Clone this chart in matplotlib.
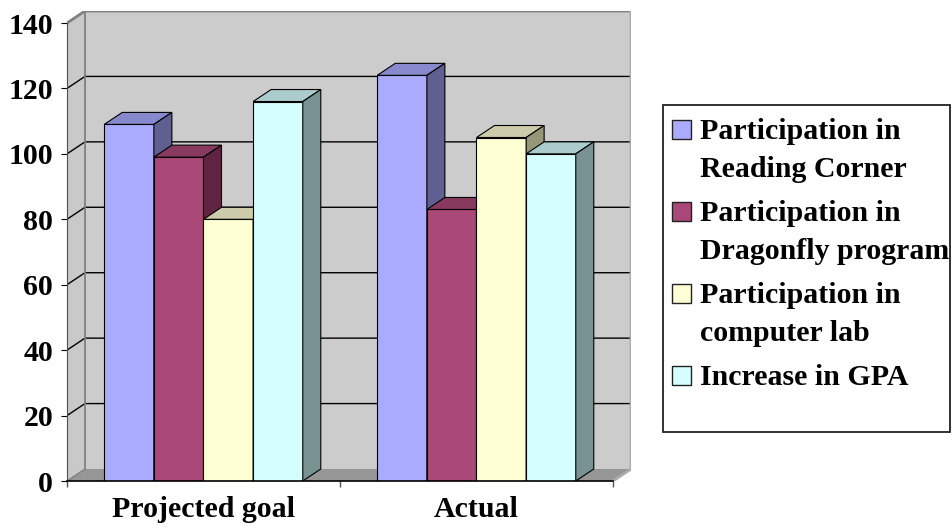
import numpy as np
import matplotlib.pyplot as plt
from matplotlib.patches import Polygon, Rectangle

groups = ['Projected goal', 'Actual']
series = ['Participation in\nReading Corner',
          'Participation in\nDragonfly program',
          'Participation in\ncomputer lab',
          'Increase in GPA']
reading = [109, 124]
dragonfly = [99, 83]
computer = [80, 105]
gpa = [116, 100]
yticks = [0, 20, 40, 60, 80, 100, 120, 140]

values = [reading, dragonfly, computer, gpa]
# front, top, side shades for each series
shades = [('#AAAAFF', '#8888CC', '#5F5F91'),
          ('#AA4977', '#883A5E', '#602442'),
          ('#FFFFD5', '#CCCCAA', '#969678'),
          ('#D5FFFF', '#AACCCC', '#789292')]

W, H = 952, 529
FS = 21.5
plt.rcParams['font.family'] = ['Liberation Serif', 'DejaVu Serif']
plt.rcParams['font.weight'] = 'bold'
fig = plt.figure(figsize=(W / 100, H / 100), dpi=100)

ymax = yticks[-1]
ncat = len(groups)
# depth offset of the 3d box, in data units
DX = 18 / 273
DY = 12 / 3.271
ax = fig.add_axes([67 / W, (H - 481) / H, 564 / W, 470 / H])
ax.set_xlim(0, ncat + DX)
ax.set_ylim(0, ymax + DY)
ax.patch.set_visible(False)

# walls and floor
ax.add_patch(Polygon([(0, 0), (DX, DY), (DX, ymax + DY), (0, ymax)],
                     closed=True, fc='#C9C9C9', ec='none', zorder=0.5))
ax.add_patch(Rectangle((DX, DY), ncat, ymax, fc='#CCCCCC', ec='none', zorder=0.5))
ax.add_patch(Polygon([(0, 0), (ncat, 0), (ncat + DX, DY), (DX, DY)],
                     closed=True, fc='#969696', ec='none', zorder=0.6))
for v in yticks[1:-1]:
    ax.plot([0, DX, ncat + DX], [v, v + DY, v + DY], color='black', lw=1, zorder=1)
ax.plot([0, DX, ncat + DX], [ymax, ymax + DY, ymax + DY], color='#808080', lw=2, zorder=1)
ax.plot([DX, DX], [DY, ymax + DY], color='#808080', lw=1.3, zorder=1)
ax.plot([0, DX], [0, DY], color='#808080', lw=1, zorder=1)
ax.plot([ncat + DX, ncat + DX, ncat], [ymax + DY, DY, 0], color='#ABABAB', lw=2, zorder=1)

# 3d columns
w = 1 / (len(series) + 1.5)
z = 2
for g in range(ncat):
    for i, vals in enumerate(values):
        front, top, side = shades[i]
        x0 = g + 0.5 - len(series) / 2 * w + i * w
        v = vals[g]
        ax.bar(x0, v, width=w, align='edge', color=front, edgecolor='black',
               lw=0.8, zorder=z)
        ax.add_patch(Polygon([(x0, v), (x0 + w, v), (x0 + w + DX, v + DY), (x0 + DX, v + DY)],
                             closed=True, fc=top, ec='black', lw=0.8, zorder=z + 0.1))
        ax.add_patch(Polygon([(x0 + w, 0), (x0 + w + DX, DY), (x0 + w + DX, v + DY), (x0 + w, v)],
                             closed=True, fc=side, ec='black', lw=0.8, zorder=z + 0.1))
        z += 1

# axes
for s in ['top', 'right']:
    ax.spines[s].set_visible(False)
ax.spines['left'].set_bounds(0, ymax)
ax.spines['left'].set_color('#505050')
ax.spines['bottom'].set_bounds(0, ncat)
ax.spines['left'].set_zorder(50)
ax.spines['bottom'].set_zorder(50)
ax.spines['bottom'].set_linewidth(1.2)

ax.set_yticks(yticks)
ax.set_yticklabels([str(t) for t in yticks], fontsize=FS, fontweight='bold')
ax.tick_params(axis='y', direction='out', length=4.5, width=0.8, pad=5.5)
ax.set_xticks(np.arange(ncat + 1))
ax.set_xticklabels([])
ax.set_xticks(np.arange(ncat) + 0.5, minor=True)
ax.set_xticklabels(groups, minor=True, fontsize=FS, fontweight='bold')
ax.tick_params(axis='x', which='major', direction='out', length=4.5, width=1, color='#505050')
ax.tick_params(axis='x', which='minor', length=0, pad=11)

# legend box
def px(x, y):
    return x / W, (H - y) / H

lx, ly = px(663, 432)
fig.patches.append(Rectangle((lx, ly), 287 / W, 327 / H, transform=fig.transFigure,
                             fc='white', ec='#222222', lw=1.3, zorder=0))
baselines = [[139, 177], [221, 259], [303, 341], [385]]
for i, label in enumerate(series):
    bx, by = px(672, baselines[i][0])
    fig.patches.append(Rectangle((bx, by), 19 / W, 19 / H, transform=fig.transFigure,
                                 fc=shades[i][0], ec='#222222', lw=1, zorder=1))
    for line, yb in zip(label.split('\n'), baselines[i]):
        tx, ty = px(700, yb)
        fig.text(tx, ty, line, fontsize=FS, fontweight='bold', va='baseline', ha='left')

fig.savefig('out.png', dpi=100)
